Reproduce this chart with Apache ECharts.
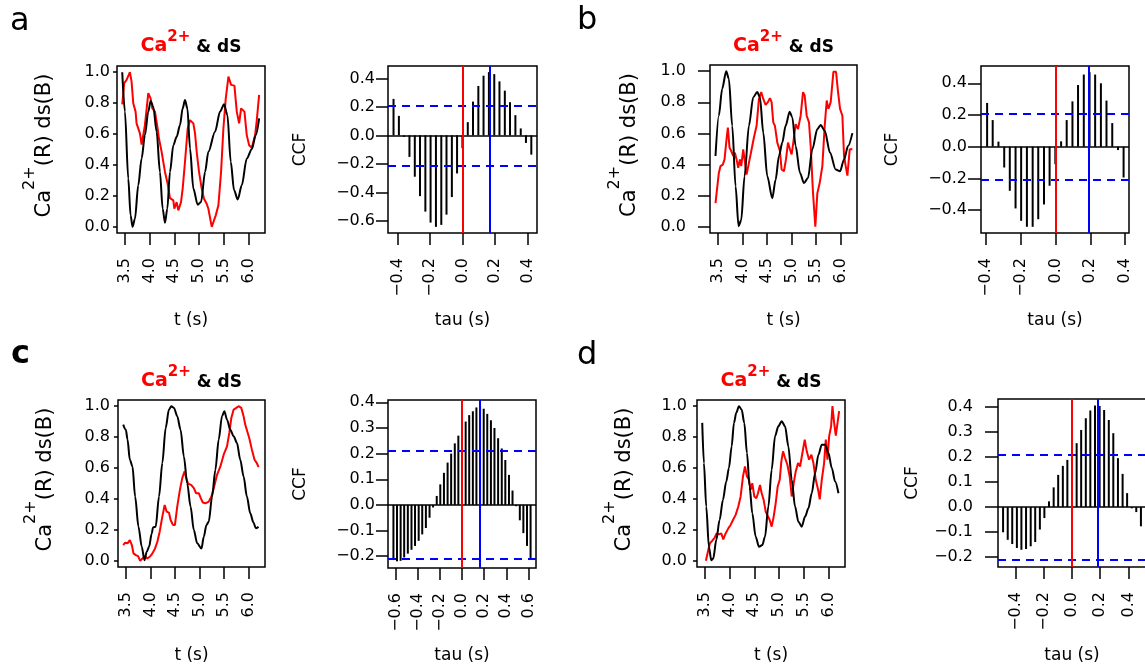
<!DOCTYPE html>
<html>
<head>
<meta charset="utf-8">
<script src="https://cdn.jsdelivr.net/npm/echarts@6/dist/echarts.min.js"></script>
<style>
  html, body { margin: 0; padding: 0; background: #fff; }
  #chart { width: 1145px; height: 668px; }
</style>
</head>
<body>
<div id="chart"></div>
<script>
// ---------- data ----------
// tick values
const timeTicks = [3.5, 4.0, 4.5, 5.0, 5.5, 6.0];
const normTicks = [0, 0.2, 0.4, 0.6, 0.8, 1.0];
const ccfTicksA = [-0.6, -0.4, -0.2, 0, 0.2, 0.4];
const ccfTicksB = [-0.4, -0.2, 0, 0.2, 0.4];
const ccfTicksCD = [-0.2, -0.1, 0, 0.1, 0.2, 0.3, 0.4];
const lagTicks4 = [-0.4, -0.2, 0, 0.2, 0.4];
const lagTicks6 = [-0.6, -0.4, -0.2, 0, 0.2, 0.4, 0.6];

// lags (s) of the cross-correlation, centred on 0
const tauLags = [-0.619, -0.587, -0.554, -0.522, -0.489, -0.456, -0.424, -0.391, -0.359, -0.326,
  -0.293, -0.261, -0.228, -0.196, -0.163, -0.130, -0.098, -0.065, -0.033, 0,
  0.033, 0.065, 0.098, 0.130, 0.163, 0.196, 0.228, 0.261, 0.293, 0.326,
  0.359, 0.391, 0.424, 0.456, 0.489, 0.522, 0.554, 0.587, 0.619];

// normalised Ca2+ (red) and dS (black) traces, [t (s), value]
const caA = [[3.446,0.792],[3.486,0.929],[3.534,0.95],[3.601,1.0],[3.635,0.939],[3.669,0.799],[3.716,0.745],[3.736,0.669],[3.804,0.604],[3.838,0.532],[3.905,0.658],[3.973,0.864],[4.02,0.831],[4.054,0.766],[4.108,0.745],[4.162,0.636],[4.189,0.571],[4.243,0.485],[4.277,0.474],[4.311,0.355],[4.365,0.279],[4.412,0.186],[4.48,0.171],[4.5,0.117],[4.547,0.16],[4.581,0.106],[4.635,0.16],[4.669,0.247],[4.716,0.42],[4.77,0.636],[4.818,0.69],[4.885,0.669],[4.919,0.604],[4.953,0.485],[5.0,0.355],[5.054,0.247],[5.101,0.182],[5.155,0.149],[5.189,0.117],[5.223,0.106],[5.257,0.0],[5.291,0.009],[5.338,0.074],[5.392,0.139],[5.446,0.355],[5.493,0.636],[5.541,0.831],[5.595,0.972],[5.649,0.918],[5.716,0.913],[5.764,0.745],[5.811,0.669],[5.851,0.766],[5.919,0.745],[5.966,0.593],[6.014,0.528],[6.068,0.511],[6.135,0.593],[6.169,0.69],[6.216,0.853]];
const dsA = [[3.446,1.0],[3.5,0.745],[3.568,0.312],[3.615,0.074],[3.655,0.0],[3.703,0.052],[3.77,0.268],[3.838,0.442],[3.905,0.593],[3.973,0.745],[4.02,0.814],[4.074,0.777],[4.142,0.615],[4.209,0.355],[4.264,0.117],[4.311,0.026],[4.358,0.117],[4.412,0.355],[4.48,0.528],[4.547,0.582],[4.615,0.658],[4.669,0.766],[4.716,0.82],[4.764,0.766],[4.818,0.506],[4.885,0.247],[4.973,0.143],[5.041,0.16],[5.122,0.355],[5.189,0.485],[5.324,0.615],[5.426,0.745],[5.507,0.792],[5.574,0.723],[5.642,0.42],[5.709,0.236],[5.784,0.177],[5.865,0.268],[5.966,0.442],[6.068,0.502],[6.149,0.593],[6.216,0.701]];

const caB = [[3.452,0.152],[3.486,0.152],[3.52,0.346],[3.554,0.39],[3.602,0.4],[3.636,0.433],[3.677,0.563],[3.704,0.638],[3.738,0.509],[3.772,0.487],[3.813,0.455],[3.847,0.476],[3.881,0.433],[3.915,0.379],[3.949,0.433],[3.976,0.39],[4.017,0.498],[4.044,0.433],[4.085,0.335],[4.133,0.411],[4.201,0.519],[4.235,0.574],[4.289,0.649],[4.337,0.822],[4.384,0.866],[4.425,0.822],[4.473,0.784],[4.52,0.801],[4.561,0.827],[4.595,0.801],[4.629,0.671],[4.663,0.649],[4.711,0.541],[4.765,0.487],[4.799,0.368],[4.847,0.357],[4.888,0.433],[4.929,0.541],[4.969,0.498],[5.003,0.465],[5.037,0.541],[5.085,0.66],[5.133,0.628],[5.187,0.714],[5.235,0.866],[5.269,0.844],[5.31,0.714],[5.357,0.671],[5.391,0.519],[5.439,0.216],[5.486,0.0],[5.527,0.216],[5.575,0.281],[5.629,0.39],[5.677,0.649],[5.718,0.812],[5.752,0.758],[5.799,0.801],[5.854,0.996],[5.908,0.996],[5.949,0.866],[5.99,0.758],[6.037,0.714],[6.071,0.455],[6.105,0.39],[6.139,0.329],[6.187,0.498],[6.241,0.498]];
const dsB = [[3.452,0.455],[3.52,0.714],[3.588,0.887],[3.67,1.0],[3.724,0.952],[3.793,0.649],[3.861,0.26],[3.922,0.004],[3.976,0.043],[4.044,0.325],[4.133,0.649],[4.221,0.833],[4.303,0.866],[4.357,0.833],[4.425,0.606],[4.507,0.325],[4.609,0.184],[4.677,0.303],[4.745,0.455],[4.813,0.541],[4.881,0.649],[4.963,0.74],[5.017,0.703],[5.085,0.519],[5.173,0.346],[5.255,0.281],[5.337,0.314],[5.425,0.498],[5.527,0.628],[5.595,0.654],[5.677,0.617],[5.786,0.476],[5.901,0.368],[5.99,0.357],[6.071,0.433],[6.153,0.519],[6.241,0.602]];

const caC = [[3.446,0.102],[3.486,0.117],[3.534,0.113],[3.581,0.134],[3.622,0.102],[3.655,0.048],[3.703,0.037],[3.75,0.03],[3.791,0.0],[3.838,0.015],[3.892,0.03],[3.939,0.015],[3.986,0.026],[4.041,0.048],[4.095,0.08],[4.142,0.123],[4.189,0.188],[4.243,0.286],[4.291,0.361],[4.331,0.318],[4.378,0.312],[4.412,0.264],[4.459,0.232],[4.5,0.232],[4.547,0.351],[4.601,0.459],[4.649,0.535],[4.696,0.578],[4.73,0.535],[4.77,0.498],[4.831,0.491],[4.885,0.47],[4.932,0.437],[4.986,0.437],[5.027,0.405],[5.068,0.377],[5.122,0.372],[5.189,0.383],[5.243,0.416],[5.291,0.47],[5.358,0.556],[5.426,0.61],[5.493,0.686],[5.561,0.74],[5.608,0.827],[5.649,0.924],[5.696,0.978],[5.75,0.989],[5.797,1.0],[5.851,0.989],[5.899,0.935],[5.932,0.881],[5.966,0.87],[6.014,0.794],[6.068,0.719],[6.122,0.654],[6.169,0.632],[6.203,0.606]];
const dsC = [[3.446,0.881],[3.5,0.848],[3.534,0.784],[3.581,0.654],[3.635,0.61],[3.689,0.416],[3.757,0.221],[3.824,0.091],[3.878,0.004],[3.926,0.058],[3.973,0.091],[4.027,0.177],[4.054,0.216],[4.108,0.221],[4.176,0.416],[4.243,0.632],[4.311,0.859],[4.378,0.978],[4.426,1.0],[4.48,0.989],[4.547,0.935],[4.615,0.848],[4.682,0.675],[4.75,0.502],[4.818,0.351],[4.885,0.199],[4.953,0.113],[5.041,0.08],[5.088,0.156],[5.142,0.232],[5.189,0.253],[5.257,0.416],[5.324,0.589],[5.392,0.784],[5.459,0.935],[5.507,0.968],[5.561,0.913],[5.628,0.848],[5.696,0.805],[5.764,0.762],[5.831,0.654],[5.899,0.545],[5.966,0.416],[6.034,0.307],[6.101,0.247],[6.149,0.21],[6.203,0.221]];

const caD = [[3.52,0.0],[3.527,0.0],[3.568,0.069],[3.601,0.113],[3.649,0.13],[3.696,0.149],[3.736,0.177],[3.784,0.171],[3.831,0.177],[3.872,0.139],[3.919,0.177],[3.973,0.21],[4.02,0.232],[4.068,0.264],[4.122,0.297],[4.176,0.351],[4.223,0.416],[4.27,0.545],[4.311,0.61],[4.351,0.545],[4.392,0.524],[4.426,0.459],[4.459,0.502],[4.5,0.416],[4.541,0.405],[4.574,0.437],[4.615,0.491],[4.649,0.437],[4.689,0.394],[4.73,0.318],[4.77,0.329],[4.811,0.264],[4.851,0.221],[4.892,0.286],[4.932,0.372],[4.973,0.481],[5.014,0.524],[5.047,0.643],[5.081,0.708],[5.122,0.665],[5.169,0.621],[5.216,0.545],[5.257,0.416],[5.297,0.502],[5.338,0.578],[5.385,0.632],[5.426,0.61],[5.473,0.697],[5.52,0.784],[5.561,0.708],[5.608,0.654],[5.655,0.686],[5.696,0.632],[5.743,0.524],[5.791,0.459],[5.824,0.398],[5.865,0.524],[5.912,0.632],[5.946,0.784],[5.98,0.654],[6.014,0.805],[6.054,0.87],[6.081,1.0],[6.115,0.892],[6.149,0.809],[6.182,0.816],[6.216,0.968]];
const dsD = [[3.446,0.892],[3.48,0.632],[3.527,0.351],[3.581,0.091],[3.628,0.004],[3.669,0.015],[3.73,0.134],[3.797,0.264],[3.865,0.394],[3.932,0.513],[3.986,0.6],[4.041,0.74],[4.088,0.892],[4.135,0.957],[4.189,1.0],[4.243,0.978],[4.297,0.892],[4.351,0.697],[4.405,0.481],[4.459,0.307],[4.527,0.156],[4.595,0.091],[4.662,0.102],[4.716,0.156],[4.784,0.351],[4.851,0.589],[4.919,0.805],[4.986,0.87],[5.054,0.903],[5.122,0.87],[5.189,0.74],[5.257,0.524],[5.324,0.351],[5.392,0.253],[5.459,0.221],[5.527,0.286],[5.595,0.34],[5.662,0.437],[5.73,0.567],[5.797,0.686],[5.865,0.751],[5.932,0.751],[6.0,0.697],[6.068,0.6],[6.135,0.513],[6.203,0.437]];

// cross-correlation values, one per lag (odd count, centred on lag 0)
const ccfA = [0.256, 0.137, -0.01, -0.151, -0.29, -0.426, -0.535, -0.612, -0.642, -0.628, -0.556, -0.433, -0.267,
  -0.09,
  0.093, 0.237, 0.347, 0.419, 0.444, 0.43, 0.379, 0.314, 0.233, 0.142, 0.049, -0.053, -0.135];
const ccfB = [0.276, 0.168, 0.032, -0.131, -0.278, -0.389, -0.467, -0.505, -0.505, -0.457, -0.364, -0.246,
  -0.11,
  0.034, 0.168, 0.286, 0.389, 0.455, 0.47, 0.455, 0.40, 0.291, 0.149, -0.021, -0.194];
const ccfC = [-0.215, -0.22, -0.218, -0.205, -0.19, -0.175, -0.16, -0.14, -0.115, -0.09, -0.05, -0.01, 0.035, 0.08, 0.125, 0.165, 0.2, 0.24, 0.27,
  0.3,
  0.325, 0.35, 0.365, 0.38, 0.385, 0.375, 0.355, 0.33, 0.3, 0.26, 0.22, 0.175, 0.117, 0.056, -0.005, -0.06, -0.11, -0.16, -0.21];
const ccfD = [-0.101, -0.131, -0.148, -0.164, -0.171, -0.168, -0.157, -0.14, -0.09, -0.044, 0.023, 0.079, 0.129, 0.165, 0.189,
  0.22,
  0.256, 0.309, 0.356, 0.387, 0.407, 0.405, 0.389, 0.349, 0.296, 0.196, 0.133, 0.056, -0.005, -0.02, -0.077];

// lag of the correlation peak (s) and the 95% significance band
const peakLags = [0.17, 0.192, 0.16, 0.178];
const confLimit = 0.215;

// ---------- layout ----------
const FONT = '"DejaVu Sans", Verdana, sans-serif';
const panels = [
  { letter: 'a', bold: false, letterPos: [10, 22], ts: [117, 66, 148, 167], cc: [388, 66, 149, 167],
    tsY: [4, 7], ccY: [12, 13], ylabX: 38.5, ccfLabX: 301,
    ca: caA, ds: dsA, ccf: ccfA, peak: peakLags[0], ccfRange: [-0.685, 0.487], ccfTicks: ccfTicksA,
    lagRange: [-0.458, 0.459], lagTicks: lagTicks4 },
  { letter: 'b', bold: false, letterPos: [577, 21], ts: [710, 65, 147, 168], cc: [981, 66, 148, 167],
    tsY: [12, 24], ccY: [13, 14], ylabX: 623.5, ccfLabX: 892.5,
    ca: caB, ds: dsB, ccf: ccfB, peak: peakLags[1], ccfRange: [-0.544, 0.509], ccfTicks: ccfTicksB,
    lagRange: [-0.426, 0.422], lagTicks: lagTicks4 },
  { letter: 'c', bold: true, letterPos: [11, 355], ts: [118, 400, 147, 167], cc: [388, 400, 148, 168],
    tsY: [4, 8], ccY: [12, 13], ylabX: 39.5, ccfLabX: 301,
    ca: caC, ds: dsC, ccf: ccfC, peak: peakLags[2], ccfRange: [-0.246, 0.409], ccfTicks: ccfTicksCD,
    lagRange: [-0.668, 0.668], lagTicks: lagTicks6 },
  { letter: 'd', bold: false, letterPos: [577, 356], ts: [697, 400, 148, 167], cc: [998, 399, 148, 168],
    tsY: [4, 10], ccY: [13, 25], ylabX: 618.5, ccfLabX: 912.5,
    ca: caD, ds: dsD, ccf: ccfD, peak: peakLags[3], ccfRange: [-0.24, 0.433], ccfTicks: ccfTicksCD,
    lagRange: [-0.525, 0.525], lagTicks: lagTicks4 }
];

const fmt = v => (Math.abs(v) < 1e-9 ? 0 : v).toFixed(1).replace('-', '\u2212');

const grid = [], xAxis = [], yAxis = [], series = [], graphic = [];

function axisPair(gi, xr, xt, yr, yt, yTick) {
  xAxis.push({
    type: 'value', gridIndex: gi, min: xr[0], max: xr[1],
    axisLine: { show: false, onZero: false },
    splitLine: { show: false },
    axisTick: { show: true, inside: false, length: 12, customValues: xt, lineStyle: { color: '#000', width: 1.5 } },
    axisLabel: { show: true, customValues: xt, rotate: 90, margin: 25, formatter: fmt,
      color: '#000', fontSize: 16, fontFamily: FONT }
  });
  yAxis.push({
    type: 'value', gridIndex: gi, min: yr[0], max: yr[1],
    axisLine: { show: false, onZero: false },
    splitLine: { show: false },
    axisTick: { show: true, inside: false, length: yTick[0], customValues: yt, lineStyle: { color: '#000', width: 1.5 } },
    axisLabel: { show: true, customValues: yt, margin: yTick[1], formatter: fmt,
      color: '#000', fontSize: 16, fontFamily: FONT }
  });
}

function text(x, y, str, opts) {
  graphic.push({
    type: 'text', x: x, y: y, rotation: opts.rotation || 0, silent: true, z: 100,
    style: Object.assign({
      text: str, fontFamily: FONT, fontSize: 17, fill: '#000',
      textAlign: 'center', align: 'center', textVerticalAlign: 'middle', verticalAlign: 'middle'
    }, opts.style || {})
  });
}

// superscripts: main runs sit at the bottom of the line box, the "2+" at its top
const titleRich = {
  c: { fill: '#ff0000', fontWeight: 'bold', fontSize: 19, lineHeight: 26, verticalAlign: 'bottom', fontFamily: FONT },
  s: { fill: '#ff0000', fontWeight: 'bold', fontSize: 15, lineHeight: 15, verticalAlign: 'top', fontFamily: FONT },
  k: { fill: '#000', fontWeight: 'bold', fontSize: 17, lineHeight: 26, verticalAlign: 'bottom', fontFamily: FONT }
};
const ylabRich = {
  m: { fill: '#000', fontSize: 21, lineHeight: 33, verticalAlign: 'bottom', fontFamily: FONT },
  s: { fill: '#000', fontSize: 16, lineHeight: 16, verticalAlign: 'top', fontFamily: FONT }
};

panels.forEach((p, i) => {
  const gTs = 2 * i, gCc = 2 * i + 1;
  [p.ts, p.cc].forEach(b => grid.push({
    left: b[0], top: b[1], width: b[2], height: b[3], show: true,
    borderColor: '#000', borderWidth: 1.5, backgroundColor: 'transparent',
    containLabel: false, outerBoundsMode: 'none'
  }));

  axisPair(gTs, [3.34, 6.335], timeTicks, [-0.04, 1.04], normTicks, p.tsY);
  axisPair(gCc, p.lagRange, p.lagTicks, p.ccfRange, p.ccfTicks, p.ccY);

  series.push({
    type: 'line', xAxisIndex: gTs, yAxisIndex: gTs, data: p.ca, showSymbol: false,
    lineStyle: { color: '#ff0000', width: 2 }, itemStyle: { color: '#ff0000' }, z: 2, animation: false, silent: true
  });
  series.push({
    type: 'line', xAxisIndex: gTs, yAxisIndex: gTs, data: p.ds, showSymbol: false, smooth: 0.3, smoothMonotone: 'x',
    lineStyle: { color: '#000', width: 2 }, itemStyle: { color: '#000' }, z: 3, animation: false, silent: true
  });

  const start = (tauLags.length - p.ccf.length) / 2;
  const lags = tauLags.slice(start, start + p.ccf.length);
  series.push({
    type: 'bar', xAxisIndex: gCc, yAxisIndex: gCc, barWidth: 2,
    data: lags.map((t, j) => [t, p.ccf[j]]),
    itemStyle: { color: '#000' }, animation: false, silent: true,
    markLine: {
      silent: true, animation: false, symbol: ['none', 'none'], label: { show: false },
      data: [
        { yAxis: 0, lineStyle: { color: '#000', type: 'solid', width: 1.5 } },
        { yAxis: confLimit, lineStyle: { color: '#0000ff', type: [8, 6], width: 2 } },
        { yAxis: -confLimit, lineStyle: { color: '#0000ff', type: [8, 6], width: 2 } },
        { xAxis: 0, lineStyle: { color: '#ff0000', type: 'solid', width: 2 } },
        { xAxis: p.peak, lineStyle: { color: '#0000ff', type: 'solid', width: 2 } }
      ]
    }
  });

  // panel letter
  text(p.letterPos[0], p.letterPos[1], p.letter, {
    style: { fontSize: 32, fontWeight: p.bold ? 'bold' : 'normal', textAlign: 'left', align: 'left' }
  });
  // title over the trace plot
  const tsCx = p.ts[0] + p.ts[2] / 2;
  const rowTop = i < 2 ? 43 : 378;
  text(tsCx, rowTop, '{c|Ca}{s|2+}{k| & dS}', { style: { rich: titleRich } });
  // axis titles
  text(p.ylabX, p.ts[1] + p.ts[3] / 2 - 4, '{m|Ca}{s|2+}{m|(R) ds(B)}',
    { rotation: Math.PI / 2, style: { rich: ylabRich } });
  const xTitleY = i < 2 ? 321 : 656;
  text(tsCx, xTitleY, 't (s)', {});
  const ccCx = p.cc[0] + p.cc[2] / 2;
  text(p.ccfLabX, p.cc[1] + p.cc[3] / 2, 'CCF', { rotation: Math.PI / 2 });
  text(ccCx, xTitleY, 'tau (s)', {});
});

const chart = echarts.init(document.getElementById('chart'), null, { renderer: 'canvas' });
chart.setOption({
  animation: false,
  backgroundColor: '#fff',
  grid: grid, xAxis: xAxis, yAxis: yAxis, series: series, graphic: graphic
});
</script>
</body>
</html>
